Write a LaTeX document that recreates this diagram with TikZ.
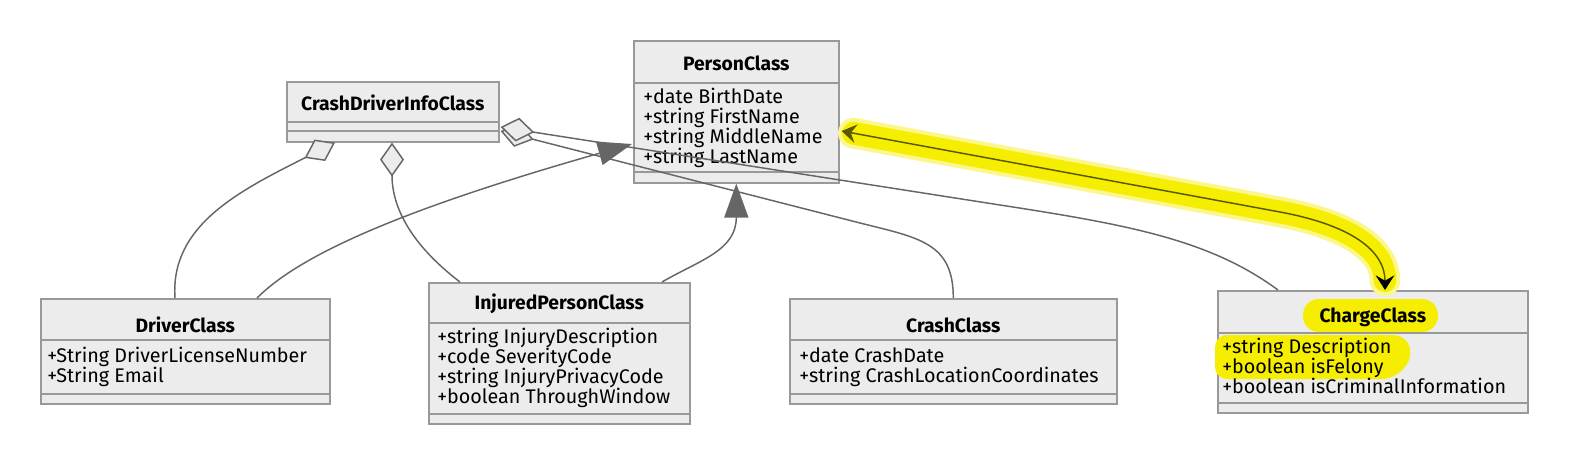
\documentclass[tikz,border=0pt]{standalone}
\usepackage{fontspec}
\setmainfont{Fira Sans}
\usetikzlibrary{arrows.meta,positioning,calc}
\definecolor{umlfill}{RGB}{236,236,236}
\definecolor{umlborder}{RGB}{153,153,153}
\definecolor{umlline}{RGB}{102,102,102}
\definecolor{hlyellow}{RGB}{246,238,0}
\definecolor{hlolive}{RGB}{92,88,0}

\begin{document}
\begin{tikzpicture}[x=0.75pt,y=0.75pt,
  classbox/.style={draw=umlborder,fill=umlfill,line width=1.2pt,anchor=north west,inner sep=0pt},
  sepline/.style={draw=umlborder,line width=1.2pt},
  classtitle/.style={font=\fontsize{14.5}{15}\selectfont\bfseries,text=black},
  attrs/.style={anchor=north west,align=left,inner sep=0pt,font=\fontsize{14.8}{15}\selectfont},
  assoc/.style={draw=umlline,line width=1.1pt},
  aggr/.style={assoc,-{Diamond[length=25.5pt,width=18pt,fill=umlfill]}},
  inherit/.style={assoc,-{Triangle[length=25.5pt,width=18pt,fill=umlline]}},
  hlsoft/.style={draw=hlyellow!45,line width=23pt,line cap=round,line join=round},
  hlmark/.style={draw=hlyellow,line width=17pt,line cap=round,line join=round}
]
  \useasboundingbox (0,0) rectangle (1570,-464);

  % class boxes
  \node[classbox,minimum width=212*0.75pt,minimum height=60*0.75pt] (crashinfo) at (286,-81) {};
  \node[classbox,minimum width=205*0.75pt,minimum height=142*0.75pt] (person) at (633,-40) {};
  \node[classbox,minimum width=289*0.75pt,minimum height=105*0.75pt] (driver) at (40,-298) {};
  \node[classbox,minimum width=261*0.75pt,minimum height=141*0.75pt] (injured) at (428,-282) {};
  \node[classbox,minimum width=327*0.75pt,minimum height=105*0.75pt] (crash) at (789,-298) {};
  \node[classbox,minimum width=310*0.75pt,minimum height=122*0.75pt] (charge) at (1217,-290) {};

  % highlighter marks
  \draw[hlsoft,shorten <=7pt,shorten >=9pt] (charge.north west) ++(168,0) .. controls +(0,40) and +(70,-13) .. (1280,-212) -- ($(person.north east)+(2,-91)$);
  \draw[hlmark,shorten <=7pt,shorten >=9pt] (charge.north west) ++(168,0) .. controls +(0,40) and +(70,-13) .. (1280,-212) -- ($(person.north east)+(2,-91)$);
  \fill[hlyellow,rounded corners=12pt] (1303,-299) rectangle (1438,-332);
  \fill[hlyellow,rounded corners=9pt] (1215,-335) -- (1406,-335) -- (1413,-358) -- (1394,-379) -- (1215,-379) -- cycle;

  % compartments
  \draw[sepline] ($(crashinfo.north west)+(0,-41)$) -- ($(crashinfo.north east)+(0,-41)$);
  \draw[sepline] ($(crashinfo.north west)+(0,-50)$) -- ($(crashinfo.north east)+(0,-50)$);
  \draw[sepline] ($(person.north west)+(0,-43)$) -- ($(person.north east)+(0,-43)$);
  \draw[sepline] ($(person.north west)+(0,-132)$) -- ($(person.north east)+(0,-132)$);
  \draw[sepline] ($(driver.north west)+(0,-42)$) -- ($(driver.north east)+(0,-42)$);
  \draw[sepline] ($(driver.north west)+(0,-96)$) -- ($(driver.north east)+(0,-96)$);
  \draw[sepline] ($(injured.north west)+(0,-41)$) -- ($(injured.north east)+(0,-41)$);
  \draw[sepline] ($(injured.north west)+(0,-132)$) -- ($(injured.north east)+(0,-132)$);
  \draw[sepline] ($(crash.north west)+(0,-42)$) -- ($(crash.north east)+(0,-42)$);
  \draw[sepline] ($(crash.north west)+(0,-96)$) -- ($(crash.north east)+(0,-96)$);
  \draw[sepline] ($(charge.north west)+(0,-43)$) -- ($(charge.north east)+(0,-43)$);
  \draw[sepline] ($(charge.north west)+(0,-113)$) -- ($(charge.north east)+(0,-113)$);

  % titles
  \node[classtitle] (crashinfotitle) at ($(crashinfo.north)+(0,-22)$) {CrashDriverInfoClass};
  \node[classtitle] (persontitle) at ($(person.north)+(0,-23)$) {PersonClass};
  \node[classtitle] (drivertitle) at ($(driver.north)+(0,-27)$) {DriverClass};
  \node[classtitle] (injuredtitle) at ($(injured.north)+(0,-22)$) {InjuredPersonClass};
  \node[classtitle] (crashtitle) at ($(crash.north)+(0,-27)$) {CrashClass};
  \node[classtitle] (chargetitle) at ($(charge.north)+(0,-27)$) {ChargeClass};

  % attributes
  \node[attrs] (personattrs) at ($(person.north west)+(10,-48)$) {+date BirthDate\\+string FirstName\\+string MiddleName\\+string LastName};
  \node[attrs] (driverattrs) at ($(driver.north west)+(7,-49)$) {+String DriverLicenseNumber\\+String Email};
  \node[attrs] (injuredattrs) at ($(injured.north west)+(9,-46)$) {+string InjuryDescription\\+code SeverityCode\\+string InjuryPrivacyCode\\+boolean ThroughWindow};
  \node[attrs] (crashattrs) at ($(crash.north west)+(10,-49)$) {+date CrashDate\\+string CrashLocationCoordinates};
  \node[attrs] (chargeattrs) at ($(charge.north west)+(5,-48)$) {+string Description\\+boolean isFelony\\+boolean isCriminalInformation};

  % relations
  \draw[aggr] ($(driver.north west)+(135,0)$) .. controls +(-5,73) and +(-95,-48) .. ($(crashinfo.south west)+(49,0)$);
  \draw[aggr] ($(injured.north west)+(32,0)$) .. controls +(-55,42) and +(0,-59) .. ($(crashinfo.south west)+(106,0)$);
  \draw[aggr] (crash.north) .. controls +(0,55) and +(60,-15) .. (860,-223) -- ($(crashinfo.north east)+(1,-50)$);
  \draw[aggr] ($(charge.north west)+(61,0)$) .. controls +(-68,50) and +(130,-20) .. (1000,-205) -- ($(crashinfo.north east)+(1,-46)$);
  \draw[inherit] ($(driver.north west)+(217,0)$) .. controls +(43,43) and +(-232,-66) .. ($(person.north west)+(-1,-104)$);
  \draw[inherit] ($(injured.north west)+(234,0)$) .. controls +(38,22) and +(0,-67) .. (person.south);
  \draw[draw=hlolive,line width=1.1pt,{Stealth[length=11pt,width=14pt,inset=4pt,black]}-{Stealth[length=11pt,width=14pt,inset=4pt,hlolive]}]
    ($(charge.north west)+(168,0)$) .. controls +(0,40) and +(70,-13) .. (1280,-212) -- ($(person.north east)+(2,-91)$);
\end{tikzpicture}
\end{document}
